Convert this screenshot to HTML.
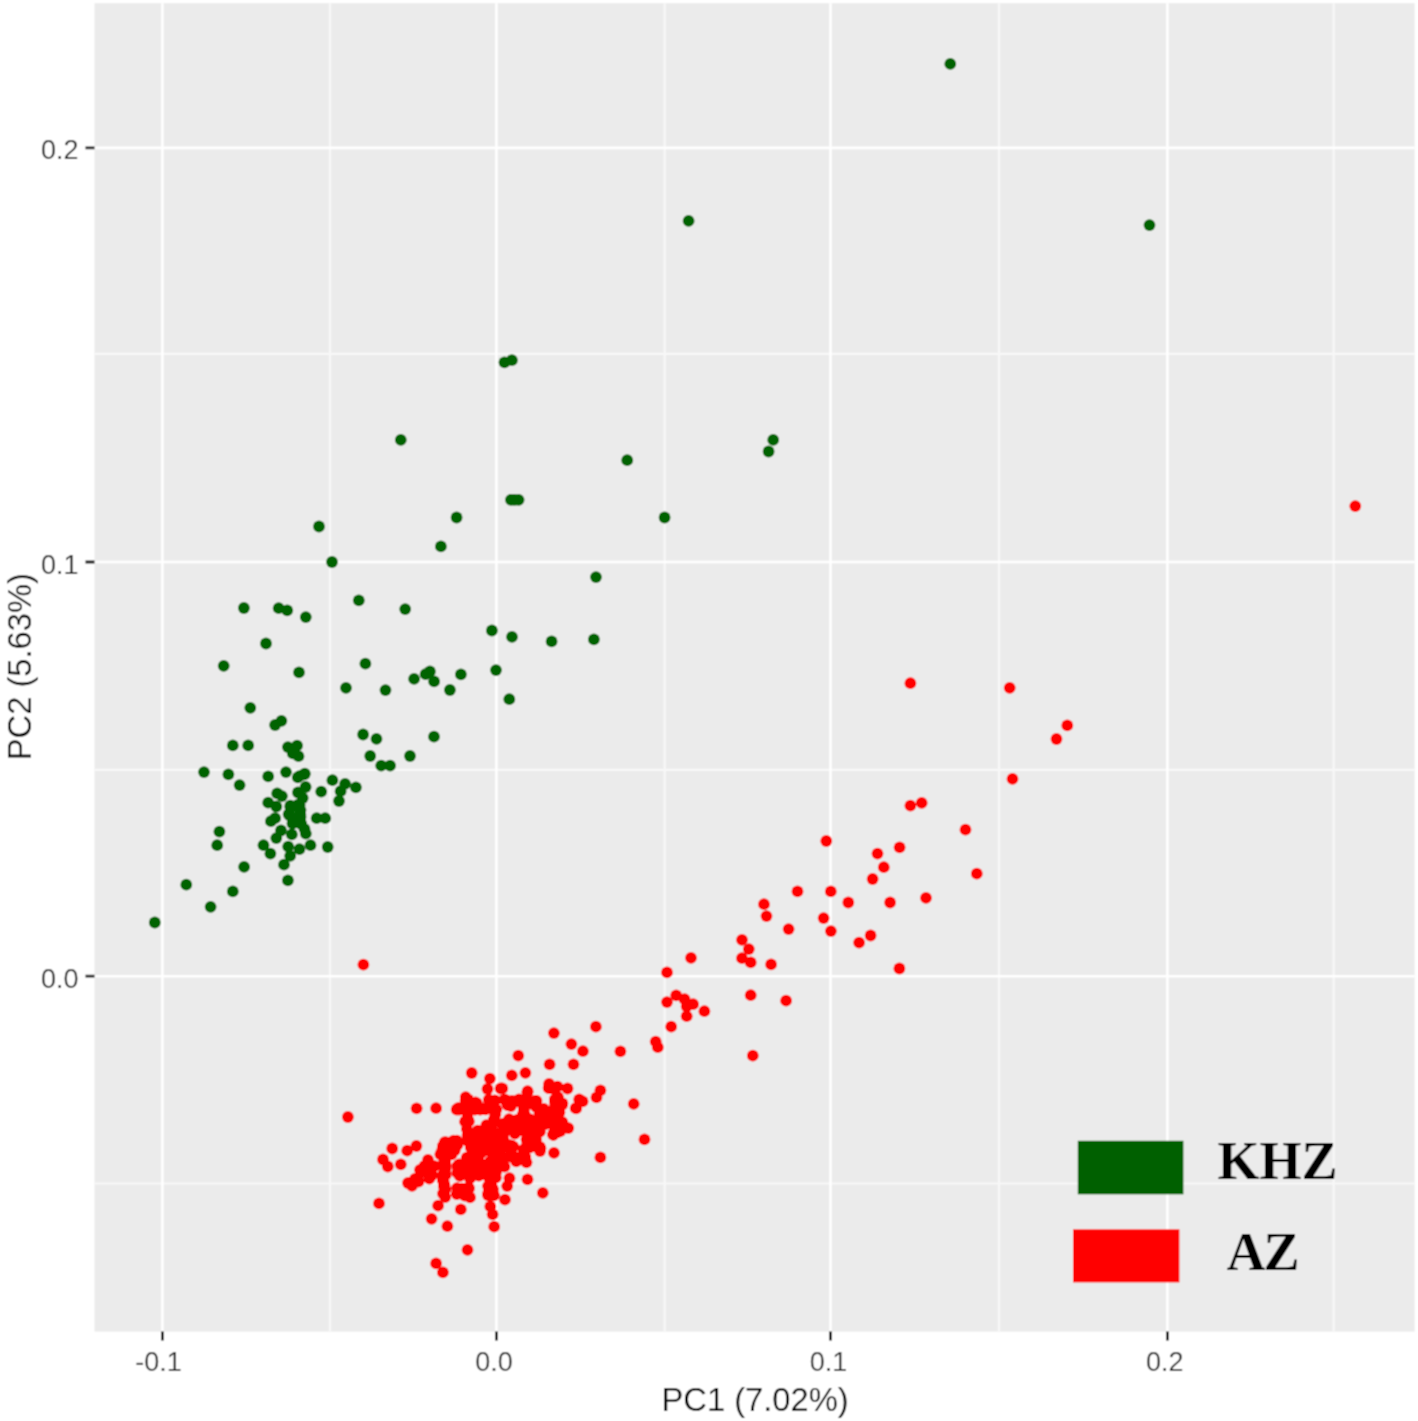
<!DOCTYPE html>
<html><head><meta charset="utf-8"><style>
html,body{margin:0;padding:0;background:#fff;}
body{width:1418px;height:1421px;overflow:hidden;position:relative;}
svg{position:absolute;left:0;top:0;}
text{font-family:"Liberation Sans",sans-serif;}
.tl{fill:#2e2e2e;font-size:27px;}
.at{fill:#000;font-size:32.7px;}
.lg{font-family:"Liberation Serif",serif;font-weight:bold;font-size:54px;fill:#000;}
</style></head><body>
<svg width="1418" height="1421" viewBox="0 0 1418 1421"><defs><filter id="bl" x="0" y="0" width="1418" height="1421" filterUnits="userSpaceOnUse"><feConvolveMatrix order="3" kernelMatrix="1 2 1 2 4 2 1 2 1" divisor="16" edgeMode="duplicate" preserveAlpha="true"/></filter></defs><g filter="url(#bl)"><rect x="0" y="0" width="1418" height="1421" fill="#fff"/>
<rect x="94.5" y="3.2" width="1320.1" height="1328.4" fill="#ebebeb"/>
<path d="M330.0 3.2V1331.6M664.7 3.2V1331.6M999.0 3.2V1331.6M1333.6 3.2V1331.6M94.5 353.9H1414.6M94.5 769.8H1414.6M94.5 1183.5H1414.6" stroke="#f8f8f8" stroke-width="2.2" fill="none"/>
<path d="M162.4 3.2V1331.6M496.4 3.2V1331.6M830.5 3.2V1331.6M1167.4 3.2V1331.6M94.5 147.9H1414.6M94.5 562.0H1414.6M94.5 976.2H1414.6" stroke="#ffffff" stroke-width="2.6" fill="none"/>
<path d="M162.4 1331.6V1340.4M496.4 1331.6V1340.4M830.5 1331.6V1340.4M1167.4 1331.6V1340.4M85.5 147.9H94.5M85.5 562.0H94.5M85.5 976.2H94.5" stroke="#1a1a1a" stroke-width="2.8" fill="none"/>
<text class="tl" x="158.5" y="1371.0" text-anchor="middle">-0.1</text>
<text class="tl" x="493.9" y="1371.0" text-anchor="middle">0.0</text>
<text class="tl" x="828.5" y="1371.0" text-anchor="middle">0.1</text>
<text class="tl" x="1164.7" y="1371.0" text-anchor="middle">0.2</text>
<text class="tl" x="78.6" y="159.4" text-anchor="end">0.2</text>
<text class="tl" x="78.6" y="573.5" text-anchor="end">0.1</text>
<text class="tl" x="78.6" y="987.7" text-anchor="end">0.0</text>
<text class="at" x="755.1" y="1410.8" text-anchor="middle">PC1 (7.02%)</text>
<text class="at" x="0" y="0" text-anchor="middle" transform="translate(31.2,666.7) rotate(-90)">PC2 (5.63%)</text>
<g fill="#006400"><circle cx="950.3" cy="63.9" r="5.9"/><circle cx="688.6" cy="220.9" r="5.9"/><circle cx="1149.5" cy="225.1" r="5.9"/><circle cx="504.5" cy="362.3" r="5.9"/><circle cx="511.9" cy="360.2" r="5.9"/><circle cx="400.8" cy="439.9" r="5.9"/><circle cx="627.2" cy="460.2" r="5.9"/><circle cx="773.2" cy="439.9" r="5.9"/><circle cx="768.6" cy="451.5" r="5.9"/><circle cx="510.9" cy="499.8" r="5.9"/><circle cx="514.5" cy="499.8" r="5.9"/><circle cx="518.6" cy="499.8" r="5.9"/><circle cx="456.6" cy="517.5" r="5.9"/><circle cx="664.6" cy="517.5" r="5.9"/><circle cx="319.0" cy="526.5" r="5.9"/><circle cx="440.9" cy="546.4" r="5.9"/><circle cx="332.0" cy="562.0" r="5.9"/><circle cx="596.0" cy="577.1" r="5.9"/><circle cx="358.8" cy="600.3" r="5.9"/><circle cx="243.9" cy="608.0" r="5.9"/><circle cx="278.7" cy="608.2" r="5.9"/><circle cx="287.2" cy="610.3" r="5.9"/><circle cx="305.8" cy="617.1" r="5.9"/><circle cx="405.2" cy="609.1" r="5.9"/><circle cx="491.9" cy="630.5" r="5.9"/><circle cx="512.0" cy="636.9" r="5.9"/><circle cx="551.6" cy="641.4" r="5.9"/><circle cx="593.9" cy="639.3" r="5.9"/><circle cx="266.0" cy="643.5" r="5.9"/><circle cx="223.7" cy="665.8" r="5.9"/><circle cx="299.0" cy="672.3" r="5.9"/><circle cx="365.4" cy="663.7" r="5.9"/><circle cx="346.0" cy="687.8" r="5.9"/><circle cx="385.5" cy="690.1" r="5.9"/><circle cx="414.1" cy="678.9" r="5.9"/><circle cx="425.6" cy="674.2" r="5.9"/><circle cx="429.9" cy="671.4" r="5.9"/><circle cx="434.1" cy="681.3" r="5.9"/><circle cx="460.9" cy="674.3" r="5.9"/><circle cx="449.9" cy="690.0" r="5.9"/><circle cx="496.0" cy="670.1" r="5.9"/><circle cx="509.3" cy="699.2" r="5.9"/><circle cx="250.3" cy="707.8" r="5.9"/><circle cx="275.1" cy="725.0" r="5.9"/><circle cx="281.4" cy="720.8" r="5.9"/><circle cx="232.8" cy="745.4" r="5.9"/><circle cx="248.2" cy="745.4" r="5.9"/><circle cx="287.9" cy="747.1" r="5.9"/><circle cx="297.1" cy="745.6" r="5.9"/><circle cx="298.5" cy="756.2" r="5.9"/><circle cx="292.8" cy="753.4" r="5.9"/><circle cx="363.1" cy="734.5" r="5.9"/><circle cx="376.5" cy="738.9" r="5.9"/><circle cx="434.0" cy="736.7" r="5.9"/><circle cx="370.2" cy="756.0" r="5.9"/><circle cx="410.0" cy="756.0" r="5.9"/><circle cx="381.2" cy="765.6" r="5.9"/><circle cx="390.1" cy="765.6" r="5.9"/><circle cx="204.0" cy="772.1" r="5.9"/><circle cx="228.4" cy="774.3" r="5.9"/><circle cx="239.6" cy="785.1" r="5.9"/><circle cx="268.2" cy="776.4" r="5.9"/><circle cx="286.0" cy="772.1" r="5.9"/><circle cx="299.4" cy="776.2" r="5.9"/><circle cx="304.8" cy="773.7" r="5.9"/><circle cx="305.6" cy="787.0" r="5.9"/><circle cx="321.2" cy="791.6" r="5.9"/><circle cx="332.4" cy="780.2" r="5.9"/><circle cx="345.1" cy="783.8" r="5.9"/><circle cx="355.9" cy="787.3" r="5.9"/><circle cx="340.6" cy="791.2" r="5.9"/><circle cx="339.0" cy="801.0" r="5.9"/><circle cx="304.4" cy="774.3" r="5.9"/><circle cx="277.2" cy="793.4" r="5.9"/><circle cx="281.9" cy="796.1" r="5.9"/><circle cx="298.0" cy="792.5" r="5.9"/><circle cx="302.7" cy="798.0" r="5.9"/><circle cx="268.2" cy="802.7" r="5.9"/><circle cx="276.3" cy="806.5" r="5.9"/><circle cx="290.3" cy="805.7" r="5.9"/><circle cx="299.6" cy="804.9" r="5.9"/><circle cx="288.7" cy="814.2" r="5.9"/><circle cx="300.3" cy="814.2" r="5.9"/><circle cx="270.9" cy="821.2" r="5.9"/><circle cx="293.4" cy="822.0" r="5.9"/><circle cx="301.1" cy="823.5" r="5.9"/><circle cx="281.0" cy="830.5" r="5.9"/><circle cx="276.3" cy="838.1" r="5.9"/><circle cx="291.8" cy="834.4" r="5.9"/><circle cx="305.8" cy="833.6" r="5.9"/><circle cx="316.7" cy="818.2" r="5.9"/><circle cx="325.2" cy="818.2" r="5.9"/><circle cx="219.4" cy="831.6" r="5.9"/><circle cx="217.2" cy="845.2" r="5.9"/><circle cx="263.5" cy="845.2" r="5.9"/><circle cx="270.4" cy="853.6" r="5.9"/><circle cx="288.2" cy="846.6" r="5.9"/><circle cx="299.4" cy="849.2" r="5.9"/><circle cx="290.2" cy="855.8" r="5.9"/><circle cx="284.0" cy="864.7" r="5.9"/><circle cx="310.5" cy="845.2" r="5.9"/><circle cx="327.7" cy="847.0" r="5.9"/><circle cx="244.1" cy="866.9" r="5.9"/><circle cx="287.9" cy="880.3" r="5.9"/><circle cx="186.3" cy="884.7" r="5.9"/><circle cx="232.8" cy="891.4" r="5.9"/><circle cx="210.6" cy="906.8" r="5.9"/><circle cx="154.8" cy="922.5" r="5.9"/><circle cx="290.5" cy="807.5" r="5.9"/><circle cx="297.8" cy="804.8" r="5.9"/><circle cx="300.5" cy="810.1" r="5.9"/><circle cx="289.8" cy="815.5" r="5.9"/><circle cx="300.5" cy="816.8" r="5.9"/><circle cx="292.5" cy="823.5" r="5.9"/><circle cx="300.5" cy="823.5" r="5.9"/><circle cx="304.5" cy="828.9" r="5.9"/><circle cx="275.1" cy="818.2" r="5.9"/><circle cx="297.8" cy="777.4" r="5.9"/></g>
<g fill="#ff0000"><circle cx="1355.3" cy="506.1" r="5.9"/><circle cx="910.4" cy="683.2" r="5.9"/><circle cx="1009.7" cy="687.8" r="5.9"/><circle cx="1067.3" cy="725.4" r="5.9"/><circle cx="1056.5" cy="739.0" r="5.9"/><circle cx="1012.5" cy="778.9" r="5.9"/><circle cx="910.4" cy="805.6" r="5.9"/><circle cx="921.7" cy="802.9" r="5.9"/><circle cx="965.5" cy="829.7" r="5.9"/><circle cx="826.3" cy="841.0" r="5.9"/><circle cx="899.6" cy="847.3" r="5.9"/><circle cx="877.5" cy="853.6" r="5.9"/><circle cx="883.8" cy="867.2" r="5.9"/><circle cx="872.6" cy="879.0" r="5.9"/><circle cx="976.8" cy="873.7" r="5.9"/><circle cx="797.5" cy="891.4" r="5.9"/><circle cx="830.8" cy="891.4" r="5.9"/><circle cx="764.0" cy="904.2" r="5.9"/><circle cx="766.5" cy="916.1" r="5.9"/><circle cx="848.3" cy="902.5" r="5.9"/><circle cx="890.1" cy="902.5" r="5.9"/><circle cx="926.0" cy="897.9" r="5.9"/><circle cx="823.6" cy="918.1" r="5.9"/><circle cx="830.9" cy="931.1" r="5.9"/><circle cx="788.6" cy="929.1" r="5.9"/><circle cx="742.0" cy="939.8" r="5.9"/><circle cx="748.8" cy="949.1" r="5.9"/><circle cx="742.0" cy="958.2" r="5.9"/><circle cx="750.7" cy="962.4" r="5.9"/><circle cx="771.1" cy="964.4" r="5.9"/><circle cx="870.6" cy="935.5" r="5.9"/><circle cx="859.1" cy="942.6" r="5.9"/><circle cx="899.4" cy="968.5" r="5.9"/><circle cx="750.7" cy="995.2" r="5.9"/><circle cx="786.1" cy="1000.7" r="5.9"/><circle cx="691.0" cy="957.9" r="5.9"/><circle cx="667.0" cy="972.4" r="5.9"/><circle cx="676.2" cy="995.3" r="5.9"/><circle cx="667.0" cy="1002.1" r="5.9"/><circle cx="684.6" cy="999.2" r="5.9"/><circle cx="693.1" cy="1004.2" r="5.9"/><circle cx="686.7" cy="1006.3" r="5.9"/><circle cx="686.7" cy="1016.2" r="5.9"/><circle cx="704.4" cy="1011.2" r="5.9"/><circle cx="671.2" cy="1026.7" r="5.9"/><circle cx="655.7" cy="1041.6" r="5.9"/><circle cx="657.8" cy="1047.2" r="5.9"/><circle cx="620.4" cy="1051.3" r="5.9"/><circle cx="752.8" cy="1055.7" r="5.9"/><circle cx="363.4" cy="964.7" r="5.9"/><circle cx="595.9" cy="1026.7" r="5.9"/><circle cx="553.9" cy="1033.1" r="5.9"/><circle cx="571.4" cy="1044.1" r="5.9"/><circle cx="582.9" cy="1051.2" r="5.9"/><circle cx="518.3" cy="1055.6" r="5.9"/><circle cx="549.6" cy="1064.3" r="5.9"/><circle cx="573.5" cy="1064.3" r="5.9"/><circle cx="511.8" cy="1075.3" r="5.9"/><circle cx="525.4" cy="1072.8" r="5.9"/><circle cx="502.3" cy="1088.4" r="5.9"/><circle cx="549.1" cy="1084.0" r="5.9"/><circle cx="557.5" cy="1086.7" r="5.9"/><circle cx="567.5" cy="1088.5" r="5.9"/><circle cx="600.4" cy="1090.3" r="5.9"/><circle cx="596.5" cy="1097.4" r="5.9"/><circle cx="582.6" cy="1101.4" r="5.9"/><circle cx="575.7" cy="1108.2" r="5.9"/><circle cx="633.7" cy="1103.9" r="5.9"/><circle cx="527.6" cy="1091.2" r="5.9"/><circle cx="557.5" cy="1096.9" r="5.9"/><circle cx="562.1" cy="1104.8" r="5.9"/><circle cx="471.7" cy="1073.0" r="5.9"/><circle cx="489.9" cy="1078.6" r="5.9"/><circle cx="487.5" cy="1089.0" r="5.9"/><circle cx="500.6" cy="1088.5" r="5.9"/><circle cx="558.0" cy="1097.5" r="5.9"/><circle cx="562.4" cy="1103.4" r="5.9"/><circle cx="576.2" cy="1108.4" r="5.9"/><circle cx="579.2" cy="1099.5" r="5.9"/><circle cx="467.1" cy="1099.5" r="5.9"/><circle cx="458.8" cy="1108.4" r="5.9"/><circle cx="475.5" cy="1102.4" r="5.9"/><circle cx="466.2" cy="1121.2" r="5.9"/><circle cx="467.6" cy="1113.3" r="5.9"/><circle cx="493.8" cy="1101.5" r="5.9"/><circle cx="504.7" cy="1099.5" r="5.9"/><circle cx="527.4" cy="1092.6" r="5.9"/><circle cx="519.0" cy="1099.5" r="5.9"/><circle cx="495.3" cy="1114.3" r="5.9"/><circle cx="509.1" cy="1119.2" r="5.9"/><circle cx="523.9" cy="1109.4" r="5.9"/><circle cx="536.7" cy="1107.4" r="5.9"/><circle cx="543.7" cy="1111.3" r="5.9"/><circle cx="559.4" cy="1112.3" r="5.9"/><circle cx="562.4" cy="1122.2" r="5.9"/><circle cx="568.3" cy="1128.1" r="5.9"/><circle cx="554.5" cy="1131.1" r="5.9"/><circle cx="560.4" cy="1131.1" r="5.9"/><circle cx="528.8" cy="1121.2" r="5.9"/><circle cx="538.7" cy="1124.2" r="5.9"/><circle cx="519.0" cy="1129.1" r="5.9"/><circle cx="503.2" cy="1129.1" r="5.9"/><circle cx="467.6" cy="1135.0" r="5.9"/><circle cx="481.5" cy="1131.1" r="5.9"/><circle cx="486.4" cy="1125.2" r="5.9"/><circle cx="444.9" cy="1145.9" r="5.9"/><circle cx="456.8" cy="1144.9" r="5.9"/><circle cx="451.8" cy="1153.8" r="5.9"/><circle cx="472.6" cy="1145.9" r="5.9"/><circle cx="482.4" cy="1141.0" r="5.9"/><circle cx="489.4" cy="1148.8" r="5.9"/><circle cx="497.3" cy="1142.9" r="5.9"/><circle cx="499.2" cy="1153.8" r="5.9"/><circle cx="512.1" cy="1146.9" r="5.9"/><circle cx="523.9" cy="1153.8" r="5.9"/><circle cx="528.8" cy="1137.0" r="5.9"/><circle cx="539.7" cy="1146.9" r="5.9"/><circle cx="554.0" cy="1152.8" r="5.9"/><circle cx="466.7" cy="1157.7" r="5.9"/><circle cx="509.1" cy="1156.7" r="5.9"/><circle cx="416.6" cy="1108.3" r="5.9"/><circle cx="436.1" cy="1108.2" r="5.9"/><circle cx="458.1" cy="1108.2" r="5.9"/><circle cx="476.8" cy="1103.5" r="5.9"/><circle cx="466.6" cy="1119.6" r="5.9"/><circle cx="477.6" cy="1130.6" r="5.9"/><circle cx="392.2" cy="1148.5" r="5.9"/><circle cx="407.2" cy="1150.7" r="5.9"/><circle cx="416.4" cy="1146.0" r="5.9"/><circle cx="383.0" cy="1159.5" r="5.9"/><circle cx="387.8" cy="1166.5" r="5.9"/><circle cx="400.8" cy="1164.3" r="5.9"/><circle cx="442.9" cy="1145.8" r="5.9"/><circle cx="440.4" cy="1154.3" r="5.9"/><circle cx="451.4" cy="1154.3" r="5.9"/><circle cx="471.7" cy="1145.0" r="5.9"/><circle cx="476.8" cy="1153.5" r="5.9"/><circle cx="425.1" cy="1166.1" r="5.9"/><circle cx="434.4" cy="1166.1" r="5.9"/><circle cx="442.9" cy="1165.5" r="5.9"/><circle cx="457.3" cy="1166.1" r="5.9"/><circle cx="465.8" cy="1164.5" r="5.9"/><circle cx="457.3" cy="1172.9" r="5.9"/><circle cx="470.0" cy="1172.9" r="5.9"/><circle cx="412.0" cy="1185.9" r="5.9"/><circle cx="418.6" cy="1181.5" r="5.9"/><circle cx="424.5" cy="1165.8" r="5.9"/><circle cx="429.3" cy="1178.5" r="5.9"/><circle cx="442.9" cy="1178.5" r="5.9"/><circle cx="444.0" cy="1186.7" r="5.9"/><circle cx="457.0" cy="1188.2" r="5.9"/><circle cx="468.3" cy="1187.3" r="5.9"/><circle cx="445.2" cy="1197.0" r="5.9"/><circle cx="438.1" cy="1205.7" r="5.9"/><circle cx="470.0" cy="1197.4" r="5.9"/><circle cx="460.8" cy="1209.4" r="5.9"/><circle cx="431.6" cy="1218.8" r="5.9"/><circle cx="447.4" cy="1226.2" r="5.9"/><circle cx="379.0" cy="1203.4" r="5.9"/><circle cx="457.6" cy="1172.6" r="5.9"/><circle cx="467.7" cy="1166.9" r="5.9"/><circle cx="470.0" cy="1178.2" r="5.9"/><circle cx="479.0" cy="1155.6" r="5.9"/><circle cx="481.3" cy="1170.3" r="5.9"/><circle cx="490.3" cy="1161.3" r="5.9"/><circle cx="495.9" cy="1172.6" r="5.9"/><circle cx="501.6" cy="1163.5" r="5.9"/><circle cx="488.0" cy="1186.1" r="5.9"/><circle cx="490.3" cy="1195.1" r="5.9"/><circle cx="505.0" cy="1199.7" r="5.9"/><circle cx="490.3" cy="1206.4" r="5.9"/><circle cx="492.6" cy="1214.3" r="5.9"/><circle cx="494.2" cy="1226.7" r="5.9"/><circle cx="509.5" cy="1178.2" r="5.9"/><circle cx="507.2" cy="1186.1" r="5.9"/><circle cx="516.3" cy="1161.3" r="5.9"/><circle cx="525.3" cy="1156.8" r="5.9"/><circle cx="527.5" cy="1179.3" r="5.9"/><circle cx="542.8" cy="1192.9" r="5.9"/><circle cx="540.0" cy="1151.1" r="5.9"/><circle cx="467.5" cy="1249.9" r="5.9"/><circle cx="436.1" cy="1263.4" r="5.9"/><circle cx="442.9" cy="1272.4" r="5.9"/><circle cx="347.9" cy="1117.0" r="5.9"/><circle cx="644.5" cy="1139.4" r="5.9"/><circle cx="600.4" cy="1157.4" r="5.9"/><circle cx="540.4" cy="1148.2" r="5.9"/><circle cx="541.8" cy="1109.7" r="5.9"/><circle cx="539.9" cy="1131.5" r="5.9"/><circle cx="534.0" cy="1139.4" r="5.9"/><circle cx="557.6" cy="1132.4" r="5.9"/><circle cx="559.6" cy="1104.8" r="5.9"/><circle cx="510.9" cy="1106.0" r="5.9"/><circle cx="496.3" cy="1109.3" r="5.9"/><circle cx="485.0" cy="1108.2" r="5.9"/><circle cx="479.3" cy="1108.2" r="5.9"/><circle cx="502.5" cy="1124.0" r="5.9"/><circle cx="517.7" cy="1125.1" r="5.9"/><circle cx="466.9" cy="1129.1" r="5.9"/><circle cx="489.5" cy="1133.6" r="5.9"/><circle cx="503.6" cy="1133.6" r="5.9"/><circle cx="514.9" cy="1133.6" r="5.9"/><circle cx="523.3" cy="1130.8" r="5.9"/><circle cx="472.6" cy="1136.4" r="5.9"/><circle cx="545.4" cy="1124.0" r="5.9"/><circle cx="525.6" cy="1125.1" r="5.9"/><circle cx="536.9" cy="1133.6" r="5.9"/><circle cx="531.3" cy="1138.1" r="5.9"/><circle cx="525.6" cy="1099.7" r="5.9"/><circle cx="500.5" cy="1138.5" r="5.9"/><circle cx="480.8" cy="1152.6" r="5.9"/><circle cx="489.2" cy="1178.0" r="5.9"/><circle cx="504.5" cy="1166.7" r="5.9"/><circle cx="425.0" cy="1172.0" r="5.9"/><circle cx="432.0" cy="1175.0" r="5.9"/><circle cx="420.0" cy="1170.0" r="5.9"/><circle cx="415.0" cy="1179.0" r="5.9"/><circle cx="408.0" cy="1183.0" r="5.9"/><circle cx="428.0" cy="1160.0" r="5.9"/><circle cx="505.7" cy="1100.8" r="5.9"/><circle cx="507.6" cy="1105.2" r="5.9"/><circle cx="511.9" cy="1100.9" r="5.9"/><circle cx="510.6" cy="1105.3" r="5.9"/><circle cx="522.4" cy="1103.9" r="5.9"/><circle cx="520.3" cy="1102.0" r="5.9"/><circle cx="525.1" cy="1103.9" r="5.9"/><circle cx="527.5" cy="1101.0" r="5.9"/><circle cx="533.5" cy="1104.6" r="5.9"/><circle cx="532.2" cy="1103.3" r="5.9"/><circle cx="535.0" cy="1100.8" r="5.9"/><circle cx="536.5" cy="1101.0" r="5.9"/><circle cx="523.5" cy="1113.4" r="5.9"/><circle cx="522.9" cy="1114.3" r="5.9"/><circle cx="524.5" cy="1115.8" r="5.9"/><circle cx="524.8" cy="1115.0" r="5.9"/><circle cx="539.8" cy="1110.5" r="5.9"/><circle cx="539.6" cy="1113.5" r="5.9"/><circle cx="541.8" cy="1120.9" r="5.9"/><circle cx="541.2" cy="1124.3" r="5.9"/><circle cx="543.8" cy="1108.8" r="5.9"/><circle cx="543.7" cy="1112.7" r="5.9"/><circle cx="545.6" cy="1118.6" r="5.9"/><circle cx="546.0" cy="1123.0" r="5.9"/><circle cx="551.2" cy="1111.3" r="5.9"/><circle cx="547.3" cy="1113.3" r="5.9"/><circle cx="551.0" cy="1118.8" r="5.9"/><circle cx="551.3" cy="1123.1" r="5.9"/><circle cx="552.4" cy="1110.4" r="5.9"/><circle cx="555.2" cy="1113.5" r="5.9"/><circle cx="552.4" cy="1118.3" r="5.9"/><circle cx="556.0" cy="1124.5" r="5.9"/><circle cx="548.8" cy="1088.2" r="5.9"/><circle cx="548.7" cy="1087.5" r="5.9"/><circle cx="555.3" cy="1088.0" r="5.9"/><circle cx="554.3" cy="1089.0" r="5.9"/><circle cx="555.2" cy="1100.3" r="5.9"/><circle cx="555.0" cy="1103.0" r="5.9"/><circle cx="554.9" cy="1099.1" r="5.9"/><circle cx="555.3" cy="1101.5" r="5.9"/><circle cx="507.8" cy="1121.7" r="5.9"/><circle cx="505.1" cy="1126.7" r="5.9"/><circle cx="504.7" cy="1129.5" r="5.9"/><circle cx="512.4" cy="1121.1" r="5.9"/><circle cx="509.4" cy="1127.2" r="5.9"/><circle cx="509.8" cy="1128.9" r="5.9"/><circle cx="517.2" cy="1119.8" r="5.9"/><circle cx="515.3" cy="1123.5" r="5.9"/><circle cx="514.4" cy="1130.2" r="5.9"/><circle cx="520.1" cy="1120.9" r="5.9"/><circle cx="520.6" cy="1125.0" r="5.9"/><circle cx="523.0" cy="1129.8" r="5.9"/><circle cx="526.5" cy="1122.0" r="5.9"/><circle cx="525.0" cy="1123.8" r="5.9"/><circle cx="527.9" cy="1131.2" r="5.9"/><circle cx="530.3" cy="1119.3" r="5.9"/><circle cx="532.3" cy="1127.0" r="5.9"/><circle cx="530.1" cy="1131.7" r="5.9"/><circle cx="537.9" cy="1120.9" r="5.9"/><circle cx="536.1" cy="1123.6" r="5.9"/><circle cx="534.6" cy="1131.8" r="5.9"/><circle cx="553.3" cy="1134.5" r="5.9"/><circle cx="553.4" cy="1134.9" r="5.9"/><circle cx="554.7" cy="1132.8" r="5.9"/><circle cx="553.1" cy="1134.5" r="5.9"/><circle cx="526.6" cy="1139.3" r="5.9"/><circle cx="528.5" cy="1141.8" r="5.9"/><circle cx="534.8" cy="1139.5" r="5.9"/><circle cx="536.0" cy="1139.2" r="5.9"/><circle cx="501.6" cy="1141.2" r="5.9"/><circle cx="503.3" cy="1140.3" r="5.9"/><circle cx="502.2" cy="1141.6" r="5.9"/><circle cx="503.8" cy="1140.6" r="5.9"/><circle cx="465.6" cy="1100.5" r="5.9"/><circle cx="468.1" cy="1099.6" r="5.9"/><circle cx="467.9" cy="1099.3" r="5.9"/><circle cx="465.7" cy="1097.1" r="5.9"/><circle cx="456.7" cy="1109.5" r="5.9"/><circle cx="459.4" cy="1109.7" r="5.9"/><circle cx="461.8" cy="1108.4" r="5.9"/><circle cx="463.6" cy="1108.8" r="5.9"/><circle cx="468.0" cy="1109.8" r="5.9"/><circle cx="467.0" cy="1108.0" r="5.9"/><circle cx="474.8" cy="1109.5" r="5.9"/><circle cx="474.8" cy="1108.7" r="5.9"/><circle cx="480.1" cy="1109.5" r="5.9"/><circle cx="478.3" cy="1108.6" r="5.9"/><circle cx="485.6" cy="1109.3" r="5.9"/><circle cx="483.6" cy="1109.0" r="5.9"/><circle cx="490.5" cy="1108.1" r="5.9"/><circle cx="489.5" cy="1107.4" r="5.9"/><circle cx="494.4" cy="1108.3" r="5.9"/><circle cx="492.4" cy="1108.4" r="5.9"/><circle cx="489.9" cy="1101.6" r="5.9"/><circle cx="488.8" cy="1099.7" r="5.9"/><circle cx="495.0" cy="1100.4" r="5.9"/><circle cx="493.9" cy="1101.5" r="5.9"/><circle cx="465.4" cy="1121.5" r="5.9"/><circle cx="465.2" cy="1121.8" r="5.9"/><circle cx="467.9" cy="1119.4" r="5.9"/><circle cx="468.8" cy="1121.4" r="5.9"/><circle cx="495.5" cy="1122.2" r="5.9"/><circle cx="494.0" cy="1119.4" r="5.9"/><circle cx="494.2" cy="1121.2" r="5.9"/><circle cx="493.8" cy="1120.1" r="5.9"/><circle cx="468.7" cy="1133.8" r="5.9"/><circle cx="466.9" cy="1140.7" r="5.9"/><circle cx="471.8" cy="1133.9" r="5.9"/><circle cx="471.3" cy="1138.8" r="5.9"/><circle cx="479.1" cy="1134.9" r="5.9"/><circle cx="479.4" cy="1138.6" r="5.9"/><circle cx="483.6" cy="1132.5" r="5.9"/><circle cx="481.8" cy="1139.1" r="5.9"/><circle cx="490.0" cy="1134.6" r="5.9"/><circle cx="489.5" cy="1140.9" r="5.9"/><circle cx="493.2" cy="1131.9" r="5.9"/><circle cx="493.9" cy="1138.2" r="5.9"/><circle cx="444.8" cy="1142.2" r="5.9"/><circle cx="446.4" cy="1142.5" r="5.9"/><circle cx="449.9" cy="1143.9" r="5.9"/><circle cx="452.5" cy="1142.3" r="5.9"/><circle cx="453.6" cy="1140.6" r="5.9"/><circle cx="456.8" cy="1140.7" r="5.9"/><circle cx="446.7" cy="1146.2" r="5.9"/><circle cx="445.1" cy="1153.3" r="5.9"/><circle cx="449.1" cy="1144.4" r="5.9"/><circle cx="450.8" cy="1150.2" r="5.9"/><circle cx="457.4" cy="1144.8" r="5.9"/><circle cx="454.7" cy="1150.3" r="5.9"/><circle cx="459.1" cy="1164.3" r="5.9"/><circle cx="459.1" cy="1169.9" r="5.9"/><circle cx="459.8" cy="1175.9" r="5.9"/><circle cx="464.3" cy="1163.3" r="5.9"/><circle cx="463.4" cy="1168.0" r="5.9"/><circle cx="461.6" cy="1174.0" r="5.9"/><circle cx="469.3" cy="1163.2" r="5.9"/><circle cx="467.5" cy="1168.7" r="5.9"/><circle cx="469.2" cy="1174.2" r="5.9"/><circle cx="473.8" cy="1165.5" r="5.9"/><circle cx="472.9" cy="1170.5" r="5.9"/><circle cx="475.0" cy="1172.4" r="5.9"/><circle cx="480.0" cy="1165.4" r="5.9"/><circle cx="476.8" cy="1169.1" r="5.9"/><circle cx="478.8" cy="1175.7" r="5.9"/><circle cx="482.7" cy="1164.8" r="5.9"/><circle cx="484.7" cy="1170.5" r="5.9"/><circle cx="485.0" cy="1174.0" r="5.9"/><circle cx="488.7" cy="1163.3" r="5.9"/><circle cx="489.0" cy="1170.6" r="5.9"/><circle cx="488.7" cy="1175.0" r="5.9"/><circle cx="470.8" cy="1147.5" r="5.9"/><circle cx="473.8" cy="1154.6" r="5.9"/><circle cx="477.6" cy="1147.1" r="5.9"/><circle cx="476.7" cy="1154.3" r="5.9"/><circle cx="484.4" cy="1145.3" r="5.9"/><circle cx="481.3" cy="1152.5" r="5.9"/><circle cx="488.8" cy="1147.0" r="5.9"/><circle cx="488.5" cy="1150.8" r="5.9"/><circle cx="495.3" cy="1144.2" r="5.9"/><circle cx="495.3" cy="1151.4" r="5.9"/><circle cx="443.1" cy="1147.1" r="5.9"/><circle cx="442.4" cy="1149.3" r="5.9"/><circle cx="443.9" cy="1156.4" r="5.9"/><circle cx="445.2" cy="1161.1" r="5.9"/><circle cx="445.6" cy="1165.2" r="5.9"/><circle cx="445.6" cy="1168.3" r="5.9"/><circle cx="442.7" cy="1174.9" r="5.9"/><circle cx="443.0" cy="1180.6" r="5.9"/><circle cx="444.4" cy="1184.6" r="5.9"/><circle cx="445.2" cy="1189.5" r="5.9"/><circle cx="443.0" cy="1193.6" r="5.9"/><circle cx="445.2" cy="1147.5" r="5.9"/><circle cx="442.6" cy="1152.1" r="5.9"/><circle cx="445.7" cy="1155.6" r="5.9"/><circle cx="444.1" cy="1159.2" r="5.9"/><circle cx="443.9" cy="1165.2" r="5.9"/><circle cx="444.2" cy="1168.1" r="5.9"/><circle cx="445.7" cy="1174.9" r="5.9"/><circle cx="443.4" cy="1180.8" r="5.9"/><circle cx="444.1" cy="1184.4" r="5.9"/><circle cx="444.6" cy="1187.5" r="5.9"/><circle cx="444.0" cy="1193.8" r="5.9"/><circle cx="459.5" cy="1190.6" r="5.9"/><circle cx="456.8" cy="1194.0" r="5.9"/><circle cx="461.9" cy="1188.6" r="5.9"/><circle cx="464.7" cy="1195.7" r="5.9"/><circle cx="469.0" cy="1188.2" r="5.9"/><circle cx="467.9" cy="1194.6" r="5.9"/><circle cx="491.2" cy="1184.4" r="5.9"/><circle cx="490.6" cy="1188.1" r="5.9"/><circle cx="488.3" cy="1193.0" r="5.9"/><circle cx="490.2" cy="1185.2" r="5.9"/><circle cx="488.9" cy="1190.5" r="5.9"/><circle cx="487.9" cy="1195.0" r="5.9"/><circle cx="496.5" cy="1145.9" r="5.9"/><circle cx="497.0" cy="1149.7" r="5.9"/><circle cx="498.1" cy="1155.7" r="5.9"/><circle cx="497.5" cy="1160.7" r="5.9"/><circle cx="498.1" cy="1164.7" r="5.9"/><circle cx="496.8" cy="1146.4" r="5.9"/><circle cx="498.6" cy="1151.1" r="5.9"/><circle cx="499.4" cy="1156.4" r="5.9"/><circle cx="499.4" cy="1160.0" r="5.9"/><circle cx="499.0" cy="1167.3" r="5.9"/><circle cx="497.5" cy="1145.2" r="5.9"/><circle cx="495.2" cy="1148.5" r="5.9"/><circle cx="499.2" cy="1147.9" r="5.9"/><circle cx="501.9" cy="1145.3" r="5.9"/><circle cx="503.8" cy="1146.8" r="5.9"/><circle cx="503.8" cy="1145.2" r="5.9"/><circle cx="510.6" cy="1145.6" r="5.9"/><circle cx="510.4" cy="1145.3" r="5.9"/><circle cx="513.3" cy="1146.6" r="5.9"/><circle cx="511.8" cy="1145.6" r="5.9"/><circle cx="496.6" cy="1160.2" r="5.9"/><circle cx="497.8" cy="1163.1" r="5.9"/><circle cx="501.9" cy="1159.6" r="5.9"/><circle cx="501.9" cy="1165.3" r="5.9"/><circle cx="515.0" cy="1156.9" r="5.9"/><circle cx="514.6" cy="1158.4" r="5.9"/><circle cx="520.9" cy="1158.7" r="5.9"/><circle cx="520.9" cy="1158.9" r="5.9"/><circle cx="523.8" cy="1157.4" r="5.9"/><circle cx="526.5" cy="1162.3" r="5.9"/><circle cx="527.2" cy="1144.3" r="5.9"/><circle cx="523.7" cy="1149.4" r="5.9"/><circle cx="529.9" cy="1147.0" r="5.9"/><circle cx="529.3" cy="1147.5" r="5.9"/><circle cx="534.6" cy="1145.6" r="5.9"/><circle cx="535.0" cy="1145.7" r="5.9"/><circle cx="539.9" cy="1147.3" r="5.9"/><circle cx="537.8" cy="1147.4" r="5.9"/><circle cx="495.2" cy="1176.0" r="5.9"/><circle cx="493.0" cy="1175.1" r="5.9"/><circle cx="494.3" cy="1174.5" r="5.9"/><circle cx="495.8" cy="1177.6" r="5.9"/><circle cx="492.9" cy="1189.6" r="5.9"/><circle cx="492.6" cy="1193.7" r="5.9"/><circle cx="492.5" cy="1188.2" r="5.9"/><circle cx="494.0" cy="1195.3" r="5.9"/></g>
<rect x="1077.8" y="1140.8" width="105.6" height="53.5" fill="#006000"/>
<rect x="1073" y="1229.3" width="106.4" height="53.1" fill="#ff0000"/>
<text class="lg" x="1217.5" y="1178.6">KHZ</text>
<text class="lg" x="1226.5" y="1269.8" letter-spacing="-2">AZ</text>
</g></svg></body></html>
